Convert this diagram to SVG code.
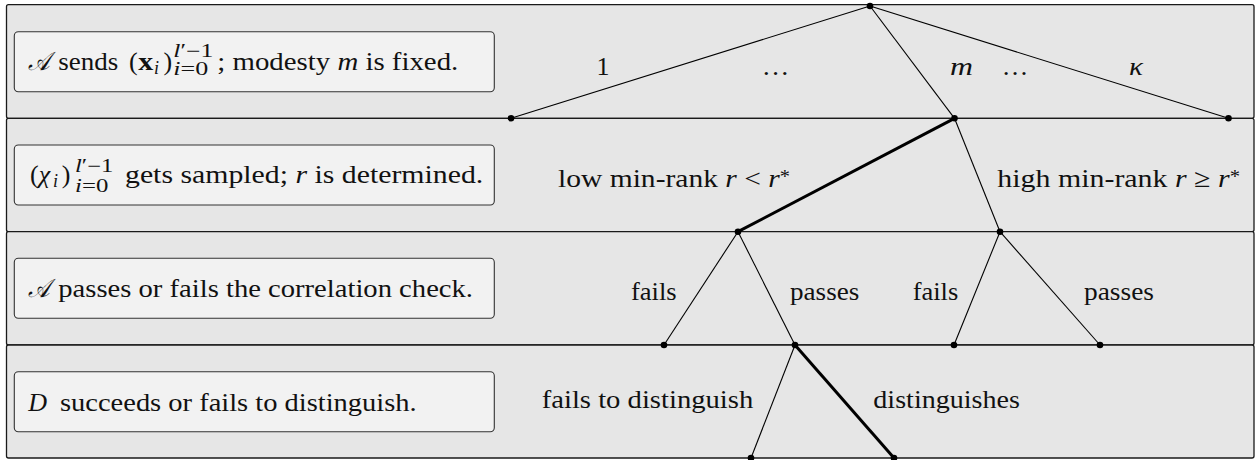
<svg xmlns="http://www.w3.org/2000/svg" width="1259" height="460" viewBox="0 0 1259 460">
<style>
.band{fill:#e6e6e6;stroke:#1a1a1a;stroke-width:1.3}
.box{fill:#f2f2f2;stroke:#333;stroke-width:1.1}
text{font-family:'Liberation Serif','DejaVu Serif',serif;font-size:26px;fill:#111}
.it{font-style:italic}
.bf{font-weight:bold}
.sm{font-size:18px}
.e{stroke:#000;stroke-width:1.1;fill:none}
.thick{stroke-width:3}
.dot{fill:#000}
</style>
<g id="rows">
<rect class="band" x="6.5" y="4.7" width="1247.5" height="113.6" rx="2"/>
<rect class="band" x="6.5" y="118.3" width="1247.5" height="113.4" rx="2"/>
<rect class="band" x="6.5" y="231.7" width="1247.5" height="113.3" rx="2"/>
<rect class="band" x="6.5" y="345" width="1247.5" height="113" rx="2"/>
</g>
<g id="step1">
<rect class="box" x="14.3" y="31.7" width="480" height="60" rx="4"/>
<text x="28.3" y="70" class="it" textLength="22" lengthAdjust="spacingAndGlyphs">𝒜</text>
<text x="58.3" y="70" textLength="60" lengthAdjust="spacingAndGlyphs">sends</text>
<text x="129" y="70">(</text>
<text x="138.3" y="70" class="bf" textLength="15" lengthAdjust="spacingAndGlyphs">x</text>
<text x="154" y="74" class="sm it">i</text>
<text x="163.5" y="70">)</text>
<text x="173.3" y="56.7" class="sm" textLength="40" lengthAdjust="spacingAndGlyphs"><tspan class="it">l</tspan>′−1</text>
<text x="173.3" y="75" class="sm" textLength="35" lengthAdjust="spacingAndGlyphs"><tspan class="it">i</tspan>=0</text>
<text x="217.3" y="70" textLength="241" lengthAdjust="spacingAndGlyphs">; modesty <tspan class="it">m</tspan> is fixed.</text>
</g>
<g id="step2">
<rect class="box" x="14.3" y="145" width="480" height="60" rx="4"/>
<text x="30" y="183.3">(<tspan class="it">χ</tspan></text>
<text x="53" y="187.3" class="sm it">i</text>
<text x="61.7" y="183.3">)</text>
<text x="75" y="171.7" class="sm" textLength="38.3" lengthAdjust="spacingAndGlyphs"><tspan class="it">l</tspan>′−1</text>
<text x="75" y="191.7" class="sm" textLength="33.3" lengthAdjust="spacingAndGlyphs"><tspan class="it">i</tspan>=0</text>
<text x="125" y="183.3" textLength="358.3" lengthAdjust="spacingAndGlyphs">gets sampled; <tspan class="it">r</tspan> is determined.</text>
</g>
<g id="step3">
<rect class="box" x="14.3" y="258.3" width="480" height="60" rx="4"/>
<text x="28.3" y="297" class="it" textLength="22" lengthAdjust="spacingAndGlyphs">𝒜</text>
<text x="58.3" y="297" textLength="414.7" lengthAdjust="spacingAndGlyphs">passes or fails the correlation check.</text>
</g>
<g id="step4">
<rect class="box" x="14.3" y="371.7" width="480" height="60" rx="4"/>
<text x="28.3" y="410.7" class="it">D</text>
<text x="60" y="410.7" textLength="356.7" lengthAdjust="spacingAndGlyphs">succeeds or fails to distinguish.</text>
</g>
<g id="connectors">
<line class="e" x1="870" y1="6" x2="511" y2="118.3"/>
<line class="e" x1="870" y1="6" x2="954.5" y2="118.3"/>
<line class="e" x1="870" y1="6" x2="1228.5" y2="118.3"/>
<line class="e thick" x1="954.5" y1="118.3" x2="738" y2="231.7"/>
<line class="e" x1="954.5" y1="118.3" x2="1000" y2="231.7"/>
<line class="e" x1="738" y1="231.7" x2="664" y2="345"/>
<line class="e" x1="738" y1="231.7" x2="795" y2="345"/>
<line class="e" x1="1000" y1="231.7" x2="954" y2="345"/>
<line class="e" x1="1000" y1="231.7" x2="1100" y2="345"/>
<line class="e" x1="795" y1="345" x2="751" y2="458"/>
<line class="e thick" x1="795" y1="345" x2="894" y2="458"/>
</g>
<g id="edge-labels">
<text x="603" y="75" text-anchor="middle">1</text>
<text x="761.7" y="75" textLength="27.6" lengthAdjust="spacingAndGlyphs">…</text>
<text x="950" y="75" class="it" textLength="23" lengthAdjust="spacingAndGlyphs">m</text>
<text x="1001.7" y="75" textLength="26.6" lengthAdjust="spacingAndGlyphs">…</text>
<text x="1129" y="74.5" class="it" textLength="14" lengthAdjust="spacingAndGlyphs">κ</text>
<text x="558" y="186.7" textLength="232" lengthAdjust="spacingAndGlyphs">low min-rank <tspan class="it">r</tspan> &lt; <tspan class="it">r</tspan><tspan class="sm" dy="-4">*</tspan></text>
<text x="997.3" y="186.7" textLength="242.7" lengthAdjust="spacingAndGlyphs">high min-rank <tspan class="it">r</tspan> ≥ <tspan class="it">r</tspan><tspan class="sm" dy="-4">*</tspan></text>
<text x="631" y="300" textLength="45.7" lengthAdjust="spacingAndGlyphs">fails</text>
<text x="790" y="300" textLength="69.3" lengthAdjust="spacingAndGlyphs">passes</text>
<text x="912.7" y="300" textLength="45.6" lengthAdjust="spacingAndGlyphs">fails</text>
<text x="1084" y="300" textLength="70" lengthAdjust="spacingAndGlyphs">passes</text>
<text x="541.7" y="408.3" textLength="211.6" lengthAdjust="spacingAndGlyphs">fails to distinguish</text>
<text x="873.3" y="408.3" textLength="146.7" lengthAdjust="spacingAndGlyphs">distinguishes</text>
</g>
<g id="n-root"><circle class="dot" cx="870" cy="6" r="3.3"/></g>
<g id="n-1"><circle class="dot" cx="511" cy="118.3" r="3.3"/></g>
<g id="n-m"><circle class="dot" cx="954.5" cy="118.3" r="3.3"/></g>
<g id="n-kappa"><circle class="dot" cx="1228.5" cy="118.3" r="3.3"/></g>
<g id="n-low"><circle class="dot" cx="738" cy="231.7" r="3.3"/></g>
<g id="n-high"><circle class="dot" cx="1000" cy="231.7" r="3.3"/></g>
<g id="n-low-fail"><circle class="dot" cx="664" cy="345" r="3.3"/></g>
<g id="n-low-pass"><circle class="dot" cx="795" cy="345" r="3.3"/></g>
<g id="n-high-fail"><circle class="dot" cx="954" cy="345" r="3.3"/></g>
<g id="n-high-pass"><circle class="dot" cx="1100" cy="345" r="3.3"/></g>
<g id="n-nodist"><circle class="dot" cx="751" cy="458" r="3.3"/></g>
<g id="n-dist"><circle class="dot" cx="894" cy="458" r="3.3"/></g>
</svg>
